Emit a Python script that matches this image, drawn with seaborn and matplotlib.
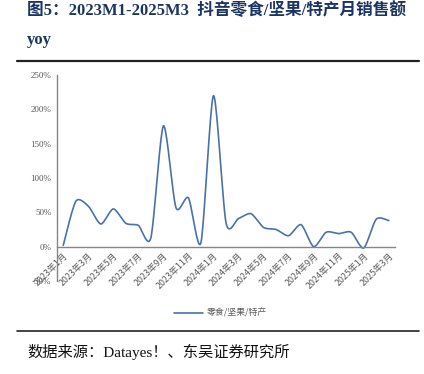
import numpy as np
import pandas as pd
import seaborn as sns
import matplotlib.pyplot as plt
from matplotlib.ticker import FuncFormatter

sns.set_style('white')
plt.rcParams['font.family'] = ['Liberation Serif', 'Noto Sans CJK SC', 'DejaVu Sans']

# monthly yoy of Douyin snacks/nuts/specialty sales, %
months = ['2023年1月', '2023年2月', '2023年3月', '2023年4月', '2023年5月', '2023年6月',
          '2023年7月', '2023年8月', '2023年9月', '2023年10月', '2023年11月', '2023年12月',
          '2024年1月', '2024年2月', '2024年3月', '2024年4月', '2024年5月', '2024年6月',
          '2024年7月', '2024年8月', '2024年9月', '2024年10月', '2024年11月', '2024年12月',
          '2025年1月', '2025年2月', '2025年3月']
yoy = [2, 66, 59, 33, 55, 34, 31, 13, 176, 57, 71, 6,
       220, 35, 41, 48, 28, 25, 16, 32, 0, 21, 19, 21,
       -2, 40, 38]
series_name = '零食/坚果/特产'

LINE_COLOR = '#4a72a8'
GRAY = '#868686'
TXT = '#595959'


def smooth(x, y, n=20, c=0.38):
    # cardinal spline through the points (excel-like "smoothed line")
    x = np.asarray(x, float)
    y = np.asarray(y, float)
    k = len(x)
    mx = np.zeros(k)
    my = np.zeros(k)
    mx[1:-1] = c * (x[2:] - x[:-2])
    my[1:-1] = c * (y[2:] - y[:-2])
    mx[0], my[0] = c * (x[1] - x[0]), c * (y[1] - y[0])
    mx[-1], my[-1] = c * (x[-1] - x[-2]), c * (y[-1] - y[-2])
    t = np.linspace(0, 1, n, endpoint=False)
    h00 = 2 * t ** 3 - 3 * t ** 2 + 1
    h10 = t ** 3 - 2 * t ** 2 + t
    h01 = -2 * t ** 3 + 3 * t ** 2
    h11 = t ** 3 - t ** 2
    xs, ys = [], []
    for i in range(k - 1):
        xs.extend(h00 * x[i] + h10 * mx[i] + h01 * x[i + 1] + h11 * mx[i + 1])
        ys.extend(h00 * y[i] + h10 * my[i] + h01 * y[i + 1] + h11 * my[i + 1])
    xs.append(x[-1])
    ys.append(y[-1])
    return np.array(xs), np.array(ys)


fig = plt.figure(figsize=(4.24, 3.74), dpi=100)
ax = fig.add_axes([57 / 424, 1 - 281 / 374, 338 / 424, 206 / 374])

sx, sy = smooth(np.arange(len(yoy)), yoy)
df = pd.DataFrame({'x': sx, 'y': sy, 'series': series_name})
sns.lineplot(data=df, x='x', y='y', hue='series', palette=[LINE_COLOR],
             linewidth=1.2, ax=ax, sort=False, estimator=None)

# spine position first: it resets the ticks
for s in ['top', 'right']:
    ax.spines[s].set_visible(False)
ax.spines['bottom'].set_position(('data', 0))
for s in ['left', 'bottom']:
    ax.spines[s].set_color(GRAY)
    ax.spines[s].set_linewidth(1.0)

ax.set_xlim(-0.5, len(yoy) - 0.5)
ax.set_ylim(-50, 250)
ax.set_yticks(np.arange(-50, 251, 50))
ax.yaxis.set_major_formatter(FuncFormatter(lambda v, p: '%d%%' % v))
ax.set_xticks(np.arange(0, len(yoy), 2))
ax.set_xticklabels(months[::2], rotation=45, ha='right', va='top',
                   rotation_mode='anchor', fontsize=6.4, color=TXT,
                   family=['Noto Sans CJK SC', 'DejaVu Sans'])
ax.set_xticks(np.arange(-0.5, len(yoy) - 1, 2), minor=True)
ax.tick_params(axis='x', which='major', length=0, pad=3)
ax.tick_params(axis='x', which='minor', length=3, width=0.8, color=GRAY, direction='out')
ax.tick_params(axis='y', length=2.5, width=0.8, color=GRAY, direction='out',
               labelsize=6.5, labelcolor=TXT, pad=1.5)
ax.set_xlabel('')
ax.set_ylabel('')

ax.get_legend().remove()
h, l = ax.get_legend_handles_labels()
fig.legend(h, l, loc='center', bbox_to_anchor=(0.52, 1 - 313 / 374), frameon=False,
           prop={'family': ['Noto Sans CJK SC'], 'size': 6.4}, handlelength=3.2,
           handletextpad=0.4, labelcolor=TXT)

# header / footer
fig.text(27 / 424, 1 - 11 / 374, '图5：2023M1-2025M3  抖音零食/坚果/特产月销售额',
         fontsize=12, fontweight='bold', color='#1b3563', va='center', ha='left')
fig.text(27 / 424, 1 - 40 / 374, 'yoy', fontsize=12, fontweight='bold',
         color='#1b3563', va='center', ha='left')
fig.add_artist(plt.Line2D([17 / 424, 419 / 424], [1 - 61 / 374] * 2, color='#222222', lw=1.6))
fig.add_artist(plt.Line2D([17 / 424, 419 / 424], [1 - 331 / 374] * 2, color='#222222', lw=1.2))
fig.text(27 / 424, 1 - 352 / 374, '数据来源：Datayes！、东吴证券研究所', fontsize=11,
         color='#111111', va='center', ha='left')

plt.savefig('out.png', dpi=100)
